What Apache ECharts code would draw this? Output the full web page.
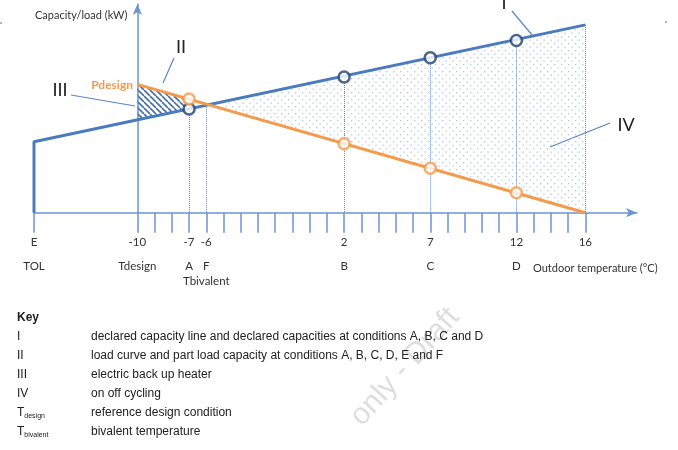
<!DOCTYPE html>
<html><head><meta charset="utf-8">
<script src="https://cdn.jsdelivr.net/npm/echarts@6/dist/echarts.min.js"></script>
<style>html,body{margin:0;padding:0;background:#fff}#c{width:678px;height:450px}</style>
</head><body><div id="c"></div>
<script>
// ---- data ----
const tickTemps = [-16,-10,-9,-8,-7,-6,-5,-4,-3,-2,-1,0,1,2,3,4,5,6,7,8,9,10,11,12,13,14,15,16];
const labelTemps = [-16,-10,-7,-6,2,7,12,16];
const labelNumbers = ['E','-10','-7','-6','2','7','12','16'];
const labelPoints = ['TOL','Tdesign','A','F','B','C','D',''];
const bivalentTemps = [-6];
const bivalentLabels = ['Tbivalent'];

const capacityLineTemps = [-16,-16,16];
const capacityLineValues = [0,3.4,9.0];
const loadLineTemps = [-10,16];
const loadLineValues = [6.15,0];

const pointTemps = [-7,2,7,12];
const capacityPoints = [4.97,6.5,7.43,8.25];
const loadPoints = [5.45,3.3,2.13,0.96];

const dropTemps = [-7,-6,2,7,12,16];
const dropTops = [4.97,5.15,6.5,7.43,8.25,9.0];

const hatchTemps = [-10,-7];
const hatchUpper = [6.15,5.45];
const hatchLower = [4.47,4.97];

const cyclingTemps = [-5.9,16,16];
const cyclingValues = [5.11,9.0,0];

// ---- styles ----
const AXIS = '#6c96d0';
const BLUE = '#4a7bbf';
const NAVY = '#22406e';
const ORANGE = '#f59a4a';
const TXT = '#333';
const FONT = 'Lato';

function makeDots(){
  const c = document.createElement('canvas'); c.width = 7; c.height = 7;
  const g = c.getContext('2d'); g.fillStyle = '#b3c7e4';
  g.fillRect(1,1,1.3,1.3); g.fillRect(4.5,4.5,1.3,1.3);
  return c;
}
function makeHatch(){
  const s = 6;
  const c = document.createElement('canvas'); c.width = s; c.height = s;
  const g = c.getContext('2d'); g.strokeStyle = '#4670ad'; g.lineWidth = 1.6;
  g.beginPath();
  [-s,0,s].forEach(k=>{ g.moveTo(k,0); g.lineTo(k+s,s); });
  g.stroke();
  return c;
}
const dotPattern = {image: makeDots(), repeat: 'repeat'};
const hatchPattern = {image: makeHatch(), repeat: 'repeat'};

const chart = echarts.init(document.getElementById('c'), null, {renderer: 'canvas'});

function polygonSeries(pts, fill){
  return {
    type: 'custom', xAxisIndex: 0, yAxisIndex: 0, silent: true, z: 1,
    data: [[pts[0][0], pts[0][1]]],
    renderItem: function(params, api){
      return {type: 'polygon', shape: {points: pts.map(p => api.coord(p))}, style: {fill: fill, stroke: 'none'}};
    }
  };
}
const hatchPts = hatchTemps.map((t,i)=>[t,hatchUpper[i]]).concat(hatchTemps.slice().reverse().map((t,i)=>[t, hatchLower[hatchTemps.length-1-i]]));
const cyclingPts = cyclingTemps.map((t,i)=>[t,cyclingValues[i]]);

const baseX = {type: 'value', min: -16, max: 19, splitLine: {show: false}};
const lab = {color: TXT, fontFamily: FONT, fontSize: 11.5};

chart.setOption({
  animation: false,
  grid: {left: 34, right: 41, top: 4, bottom: 237.3, outerBoundsMode: 'none', containLabel: false},
  xAxis: [
    Object.assign({}, baseX, {
      axisLine: {show: true, onZero: false, symbol: ['none','arrow'], symbolSize: [7,11], lineStyle: {color: AXIS, width: 1.5}},
      axisTick: {show: true, customValues: tickTemps, length: 20, lineStyle: {color: AXIS, width: 1.5}},
      axisLabel: Object.assign({show: true, customValues: labelTemps, margin: 24,
        formatter: v => labelNumbers[labelTemps.indexOf(v)]}, lab)
    }),
    Object.assign({}, baseX, {
      position: 'bottom',
      axisLine: {show: false}, axisTick: {show: false},
      axisLabel: Object.assign({show: true, customValues: labelTemps, margin: 48,
        formatter: v => labelPoints[labelTemps.indexOf(v)]}, lab)
    }),
    Object.assign({}, baseX, {
      position: 'bottom',
      axisLine: {show: false}, axisTick: {show: false},
      axisLabel: Object.assign({show: true, customValues: bivalentTemps, margin: 63,
        formatter: v => bivalentLabels[bivalentTemps.indexOf(v)]}, lab)
    })
  ],
  yAxis: {
    type: 'value', min: 0, max: 10, offset: -103.4,
    axisLine: {show: true, onZero: false, symbol: ['none','arrow'], symbolSize: [7,11], lineStyle: {color: AXIS, width: 1.5}},
    axisTick: {show: false}, axisLabel: {show: false}, splitLine: {show: false}
  },
  series: [
    polygonSeries(hatchPts, hatchPattern),
    polygonSeries(cyclingPts, dotPattern),
    {
      type: 'line', z: 3, symbol: 'none', silent: true,
      data: capacityLineTemps.map((t,i)=>[t, capacityLineValues[i]]),
      lineStyle: {color: BLUE, width: 3},
      markLine: {
        silent: true, symbol: 'none', label: {show: false},
        lineStyle: {color: '#5b87c5', width: 1, type: 'dotted'},
        data: dropTemps.map((t,i)=>[{coord: [t, dropTops[i]]}, {coord: [t, 0]}])
      }
    },
    {
      type: 'line', z: 3, symbol: 'none', silent: true,
      data: loadLineTemps.map((t,i)=>[t, loadLineValues[i]]),
      lineStyle: {color: ORANGE, width: 3}
    },
    {
      type: 'scatter', z: 5, symbol: 'circle', symbolSize: 11, silent: true,
      data: pointTemps.map((t,i)=>[t, capacityPoints[i]]),
      itemStyle: {color: '#fff', borderColor: NAVY, borderWidth: 2.5}
    },
    {
      type: 'scatter', z: 5, symbol: 'circle', symbolSize: 11, silent: true,
      data: pointTemps.map((t,i)=>[t, loadPoints[i]]),
      itemStyle: {color: '#fff', borderColor: ORANGE, borderWidth: 2.5}
    }
  ],
  graphic: [
    {type: 'text', z: 0, x: 405, y: 367, rotation: 48*Math.PI/180,
      style: {text: 'only - Draft', fill: '#dedede', fontSize: 30, fontFamily: 'Liberation Sans', align: 'center', verticalAlign: 'middle'}},
    {type: 'text', x: 35, y: 15, style: {text: 'Capacity/load (kW)', fill: TXT, fontSize: 11, fontFamily: 'Lato', verticalAlign: 'middle'}},
    {type: 'text', x: 504, y: 3, style: {text: 'I', fill: '#222', fontSize: 18, fontFamily: 'Lato', align: 'center', verticalAlign: 'middle'}},
    {type: 'text', x: 181, y: 47, style: {text: 'II', fill: '#222', fontSize: 18, fontFamily: 'Lato', align: 'center', verticalAlign: 'middle'}},
    {type: 'text', x: 60, y: 90, style: {text: 'III', fill: '#222', fontSize: 18, fontFamily: 'Lato', align: 'center', verticalAlign: 'middle'}},
    {type: 'text', x: 626, y: 125, style: {text: 'IV', fill: '#222', fontSize: 18, fontFamily: 'Lato', align: 'center', verticalAlign: 'middle'}},
    {type: 'text', x: 133, y: 85, style: {text: 'Pdesign', fill: ORANGE, fontSize: 12, fontWeight: 'bold', fontFamily: 'Lato', align: 'right', verticalAlign: 'middle'}},
    {type: 'line', shape: {x1: 512, y1: 11, x2: 532, y2: 35}, style: {stroke: '#5b87c5', lineWidth: 1.2}},
    {type: 'line', shape: {x1: 174, y1: 58, x2: 163, y2: 83}, style: {stroke: '#5b87c5', lineWidth: 1.2}},
    {type: 'line', shape: {x1: 71, y1: 95, x2: 135, y2: 106}, style: {stroke: '#5b87c5', lineWidth: 1.2}},
    {type: 'line', shape: {x1: 610, y1: 123, x2: 550, y2: 147}, style: {stroke: '#5b87c5', lineWidth: 1.2}},
    {type: 'circle', shape: {cx: 1, cy: 23, r: 1}, style: {fill: '#999'}},
    {type: 'circle', shape: {cx: 666, cy: 22, r: 1}, style: {fill: '#999'}},
    {type: 'text', x: 17, y: 318, style: {text: 'Key', fill: '#222', fontSize: 12, fontWeight: 'bold', fontFamily: 'Liberation Sans', verticalAlign: 'middle'}},
    {type: 'text', x: 17, y: 337, style: {text: 'I', fill: '#222', fontSize: 12, fontFamily: 'Liberation Sans', verticalAlign: 'middle'}},
    {type: 'text', x: 17, y: 356, style: {text: 'II', fill: '#222', fontSize: 12, fontFamily: 'Liberation Sans', verticalAlign: 'middle'}},
    {type: 'text', x: 17, y: 375, style: {text: 'III', fill: '#222', fontSize: 12, fontFamily: 'Liberation Sans', verticalAlign: 'middle'}},
    {type: 'text', x: 17, y: 394, style: {text: 'IV', fill: '#222', fontSize: 12, fontFamily: 'Liberation Sans', verticalAlign: 'middle'}},
    {type: 'text', x: 17, y: 413, style: {text: '{t|T}{s|design}', fill: '#222', verticalAlign: 'middle',
      rich: {t: {fontFamily: 'Liberation Sans', fontSize: 12, fill: '#222'}, s: {fontFamily: 'Liberation Sans', fontSize: 7, fill: '#222', padding: [6,0,0,0]}}}},
    {type: 'text', x: 17, y: 432, style: {text: '{t|T}{s|bivalent}', fill: '#222', verticalAlign: 'middle',
      rich: {t: {fontFamily: 'Liberation Sans', fontSize: 12, fill: '#222'}, s: {fontFamily: 'Liberation Sans', fontSize: 7, fill: '#222', padding: [6,0,0,0]}}}},
    {type: 'text', x: 91, y: 337, style: {text: 'declared capacity line and declared capacities at conditions A, B, C and D', fill: '#222', fontSize: 12, fontFamily: 'Liberation Sans', verticalAlign: 'middle'}},
    {type: 'text', x: 91, y: 356, style: {text: 'load curve and part load capacity at conditions A, B, C, D, E and F', fill: '#222', fontSize: 12, fontFamily: 'Liberation Sans', verticalAlign: 'middle'}},
    {type: 'text', x: 91, y: 375, style: {text: 'electric back up heater', fill: '#222', fontSize: 12, fontFamily: 'Liberation Sans', verticalAlign: 'middle'}},
    {type: 'text', x: 91, y: 394, style: {text: 'on off cycling', fill: '#222', fontSize: 12, fontFamily: 'Liberation Sans', verticalAlign: 'middle'}},
    {type: 'text', x: 91, y: 413, style: {text: 'reference design condition', fill: '#222', fontSize: 12, fontFamily: 'Liberation Sans', verticalAlign: 'middle'}},
    {type: 'text', x: 91, y: 432, style: {text: 'bivalent temperature', fill: '#222', fontSize: 12, fontFamily: 'Liberation Sans', verticalAlign: 'middle'}},
    {type: 'text', x: 533, y: 268, style: {text: 'Outdoor temperature (°C)', fill: TXT, fontSize: 11, fontFamily: 'Lato', verticalAlign: 'middle'}}
  ]
});
</script>
</body></html>
